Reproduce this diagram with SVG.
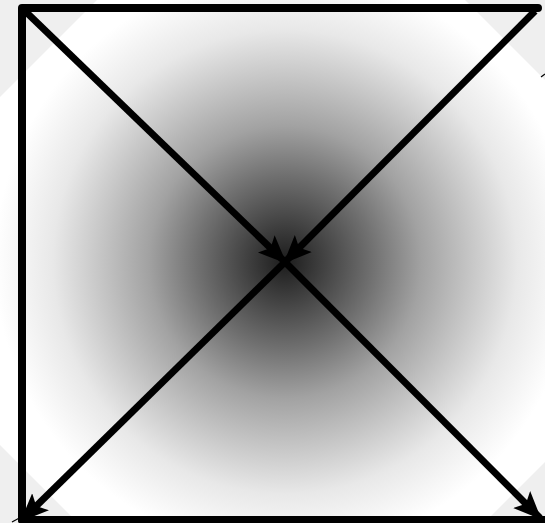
<svg xmlns="http://www.w3.org/2000/svg" width="545" height="523" viewBox="0 0 545 523">
  <defs>
    <radialGradient id="shade" gradientUnits="userSpaceOnUse" cx="285" cy="262" r="290">
      <stop offset="0" stop-color="#1c1c1c"/>
      <stop offset="0.3" stop-color="#707070"/>
      <stop offset="0.47" stop-color="#a2a2a2"/>
      <stop offset="0.8" stop-color="#e8e8e8"/>
      <stop offset="1" stop-color="#ffffff"/>
    </radialGradient>
    <marker id="arrow" viewBox="0 0 28 26" refX="26" refY="13" markerWidth="28" markerHeight="26" markerUnits="userSpaceOnUse" orient="auto">
      <path d="M0,1 L28,13 L0,25 L6,13 Z" fill="#000"/>
    </marker>
    <style>
      .frame { fill: none; stroke: #000; stroke-width: 8; stroke-linejoin: round; stroke-linecap: round; }
      .edge { fill: none; stroke: #000; stroke-width: 7; }
      .thin { fill: none; stroke: #000; stroke-width: 1.2; }
    </style>
  </defs>
  <rect x="0" y="0" width="545" height="523" fill="#efefef"/>
  <polygon points="281,-184 736,271 281,726 -174,271" fill="url(#shade)"/>
  <g id="frame">
    <path class="frame" d="M22,520 L22,8 L538,8"/>
    <line class="frame" x1="22" y1="520" x2="560" y2="520"/>
  </g>
  <g id="connectors">
    <line class="thin" x1="12" y1="522" x2="34" y2="510"/>
    <line class="thin" x1="541" y1="77" x2="545" y2="74"/>
    <line class="edge" x1="25" y1="11" x2="285" y2="262" marker-end="url(#arrow)"/>
    <line class="edge" x1="535" y1="11" x2="285" y2="262" marker-end="url(#arrow)"/>
    <line class="edge" x1="285" y1="262" x2="22" y2="520" marker-end="url(#arrow)"/>
    <line class="edge" x1="285" y1="262" x2="540" y2="518" marker-end="url(#arrow)"/>
  </g>
</svg>
